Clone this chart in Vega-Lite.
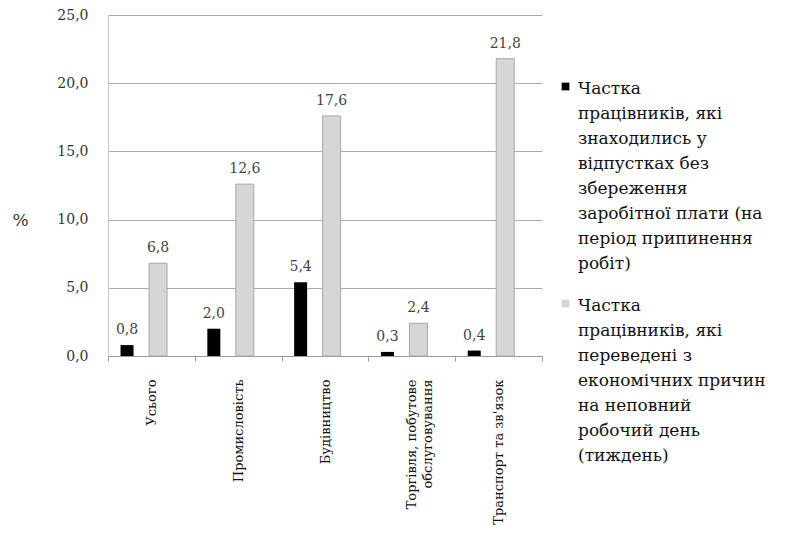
{
  "$schema": "https://vega.github.io/schema/vega-lite/v6.json",
  "width": 434,
  "height": 341,
  "autosize": {"type": "none"},
  "padding": {"left": 108, "top": 15, "right": 252, "bottom": 180},
  "background": "white",
  "config": {
    "locale": {"number": {"decimal": ",", "thousands": " ", "grouping": [3], "currency": ["", " ₴"]}},
    "view": {"stroke": null},
    "font": "DejaVu Serif"
  },
  "data": {
    "values": [
      {"category": "Усього", "series": "Частка працівників, які знаходились у відпустках без збереження заробітної плати (на період припинення робіт)", "value": 0.8},
      {"category": "Усього", "series": "Частка працівників, які переведені з економічних причин на неповний робочий день (тиждень)", "value": 6.8},
      {"category": "Промисловість", "series": "Частка працівників, які знаходились у відпустках без збереження заробітної плати (на період припинення робіт)", "value": 2.0},
      {"category": "Промисловість", "series": "Частка працівників, які переведені з економічних причин на неповний робочий день (тиждень)", "value": 12.6},
      {"category": "Будівництво", "series": "Частка працівників, які знаходились у відпустках без збереження заробітної плати (на період припинення робіт)", "value": 5.4},
      {"category": "Будівництво", "series": "Частка працівників, які переведені з економічних причин на неповний робочий день (тиждень)", "value": 17.6},
      {"category": "Торгівля, побутове обслуговування", "series": "Частка працівників, які знаходились у відпустках без збереження заробітної плати (на період припинення робіт)", "value": 0.3},
      {"category": "Торгівля, побутове обслуговування", "series": "Частка працівників, які переведені з економічних причин на неповний робочий день (тиждень)", "value": 2.4},
      {"category": "Транспорт та зв'язок", "series": "Частка працівників, які знаходились у відпустках без збереження заробітної плати (на період припинення робіт)", "value": 0.4},
      {"category": "Транспорт та зв'язок", "series": "Частка працівників, які переведені з економічних причин на неповний робочий день (тиждень)", "value": 21.8}
    ]
  },
  "encoding": {
    "x": {
      "field": "category",
      "type": "nominal",
      "sort": null,
      "scale": {"paddingInner": 0, "paddingOuter": 0},
      "axis": {
        "title": null,
        "labelAngle": -90,
        "labelFont": "DejaVu Serif",
        "labelFontSize": 13,
        "labelColor": "#111111",
        "labelPadding": 18,
        "labelLineHeight": 16,
        "labelExpr": "datum.value == 'Торгівля, побутове обслуговування' ? ['Торгівля, побутове', 'обслуговування'] : datum.value",
        "tickBand": "extent",
        "tickColor": "#9a9a9a",
        "tickSize": 5,
        "domainColor": "#9a9a9a",
        "grid": false
      }
    },
    "xOffset": {
      "field": "series",
      "type": "nominal",
      "scale": {"paddingInner": 0.5, "paddingOuter": 0.65, "align": 0.28}
    },
    "y": {
      "field": "value",
      "type": "quantitative",
      "scale": {"domain": [0, 25]},
      "axis": {
        "title": "%",
        "titleAngle": 0,
        "titleX": -88,
        "titleY": 205,
        "titleAlign": "center",
        "titleBaseline": "middle",
        "titleFont": "DejaVu Serif",
        "titleFontSize": 17,
        "titleFontWeight": "normal",
        "titleColor": "#333333",
        "values": [0, 5, 10, 15, 20, 25],
        "labelExpr": "replace(format(datum.value, '.1f'), '.', ',')",
        "labelFont": "DejaVu Serif",
        "labelFontSize": 14,
        "labelColor": "#333333",
        "labelPadding": 20,
        "ticks": false,
        "domainColor": "#c8c8c8",
        "gridColor": "#ababab",
        "gridWidth": 1
      }
    }
  },
  "layer": [
    {
      "mark": {"type": "bar", "width": 13, "strokeWidth": 0},
      "encoding": {
        "color": {
          "field": "series",
          "type": "nominal",
          "scale": {"range": ["#000000", "#d6d6d6"]},
          "legend": {
            "title": null,
            "orient": "none",
            "legendX": 449,
            "legendY": 63,
            "symbolType": "square",
            "symbolSize": 60,
            "symbolStrokeWidth": 0,
            "labelFont": "DejaVu Serif",
            "labelFontSize": 17,
            "labelLimit": 260,
            "labelColor": "#111111",
            "labelBaseline": "top",
            "labelOffset": 4,
            "rowPadding": 23,
            "labelExpr": "indexof(datum.label, 'відпустках') >= 0 ? ['Частка', 'працівників, які', 'знаходились у', 'відпустках без', 'збереження', 'заробітної плати (на', 'період припинення', 'робіт)'] : ['Частка', 'працівників, які', 'переведені з', 'економічних причин', 'на неповний', 'робочий день', '(тиждень)']",
            "encode": {
              "labels": {
                "update": {
                  "lineHeight": {"value": 25},
                  "dy": {"value": -6}
                }
              }
            }
          }
        }
      }
    },
    {
      "transform": [{"filter": "indexof(datum.series, 'відпустках') < 0"}],
      "mark": {"type": "bar", "width": 18, "fill": "#d6d6d6", "stroke": "#a8a8a8", "strokeWidth": 1}
    },
    {
      "mark": {"type": "text", "baseline": "bottom", "dy": -8, "font": "DejaVu Serif", "fontSize": 14, "fill": "#444444"},
      "encoding": {
        "text": {"field": "value", "type": "quantitative", "format": ".1f"}
      }
    }
  ]
}
